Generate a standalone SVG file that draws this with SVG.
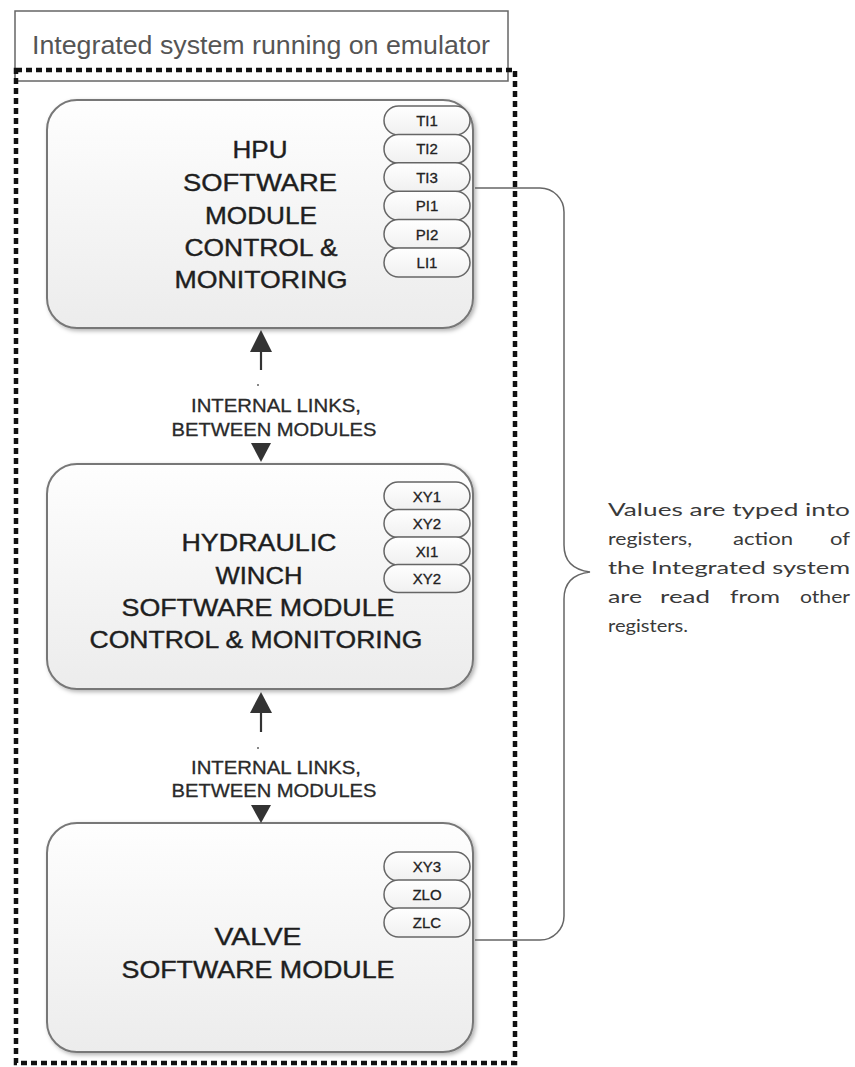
<svg xmlns="http://www.w3.org/2000/svg" width="855" height="1067" viewBox="0 0 855 1067">
<defs>
<linearGradient id="boxg" x1="0" y1="0" x2="0" y2="1">
<stop offset="0" stop-color="#fefefe"/>
<stop offset="1" stop-color="#ececec"/>
</linearGradient>
<linearGradient id="pillg" x1="0" y1="0" x2="0" y2="1">
<stop offset="0" stop-color="#ffffff"/>
<stop offset="1" stop-color="#f0f0f0"/>
</linearGradient>
<filter id="sh" x="-5%" y="-5%" width="115%" height="115%">
<feDropShadow dx="2" dy="2" stdDeviation="2" flood-color="#000" flood-opacity="0.3"/>
</filter>
</defs>
<style>
.box{fill:url(#boxg);stroke:#777;stroke-width:2;filter:url(#sh)}
.pill{fill:url(#pillg);stroke:#666;stroke-width:1.5}
.pt{font-family:"Liberation Sans",Arial,sans-serif;font-size:15px;fill:#222;stroke:#222;stroke-width:0.3;text-anchor:middle}
.nt{font-family:"Liberation Sans",Arial,sans-serif;font-size:24px;fill:#1e1e1e;stroke:#1e1e1e;stroke-width:0.4;text-anchor:middle}
.lt{font-family:"Liberation Sans",Arial,sans-serif;font-size:19px;fill:#2a2a2a;stroke:#2a2a2a;stroke-width:0.3;text-anchor:middle}
.para{font-family:Lato,"Open Sans",sans-serif;font-size:18px;fill:#3a3a3a}
.head{fill:#333}
</style>

<g id="title">
<rect x="15" y="11" width="493" height="70" fill="#fff" stroke="#666" stroke-width="1.5"/>
<text x="261" y="54" font-family="'Liberation Sans',Arial,sans-serif" font-size="26" fill="#555" text-anchor="middle" textLength="458" lengthAdjust="spacingAndGlyphs">Integrated system running on emulator</text>
</g>

<g id="boundary">
<rect x="16" y="70" width="499" height="993" fill="none" stroke="#111" stroke-width="4.5" stroke-dasharray="6 4"/>
</g>

<g id="hpu">
<rect class="box" x="47" y="100" width="426" height="228" rx="30"/>
<text class="nt" x="260" y="158" textLength="55" lengthAdjust="spacingAndGlyphs">HPU</text>
<text class="nt" x="260" y="191" textLength="154" lengthAdjust="spacingAndGlyphs">SOFTWARE</text>
<text class="nt" x="261" y="224" textLength="112" lengthAdjust="spacingAndGlyphs">MODULE</text>
<text class="nt" x="261" y="256" textLength="153" lengthAdjust="spacingAndGlyphs">CONTROL &amp;</text>
<text class="nt" x="261" y="288" textLength="173" lengthAdjust="spacingAndGlyphs">MONITORING</text>
<rect class="pill" x="384" y="106" width="86" height="29" rx="14.5"/>
<rect class="pill" x="384" y="134.4" width="86" height="29" rx="14.5"/>
<rect class="pill" x="384" y="162.8" width="86" height="29" rx="14.5"/>
<rect class="pill" x="384" y="191.2" width="86" height="29" rx="14.5"/>
<rect class="pill" x="384" y="219.6" width="86" height="29" rx="14.5"/>
<rect class="pill" x="384" y="248" width="86" height="29" rx="14.5"/>
<text class="pt" x="427" y="126">TI1</text>
<text class="pt" x="427" y="154.4">TI2</text>
<text class="pt" x="427" y="182.8">TI3</text>
<text class="pt" x="427" y="211.2">PI1</text>
<text class="pt" x="427" y="239.6">PI2</text>
<text class="pt" x="427" y="268">LI1</text>
</g>

<g id="hydraulic">
<rect class="box" x="47" y="464" width="426" height="225" rx="30"/>
<text class="nt" x="259" y="551" textLength="155" lengthAdjust="spacingAndGlyphs">HYDRAULIC</text>
<text class="nt" x="259" y="584" textLength="87" lengthAdjust="spacingAndGlyphs">WINCH</text>
<text class="nt" x="258" y="616" textLength="273" lengthAdjust="spacingAndGlyphs">SOFTWARE MODULE</text>
<text class="nt" x="256" y="648" textLength="333" lengthAdjust="spacingAndGlyphs">CONTROL &amp; MONITORING</text>
<rect class="pill" x="384" y="482" width="86" height="28" rx="14"/>
<rect class="pill" x="384" y="509.5" width="86" height="28" rx="14"/>
<rect class="pill" x="384" y="537" width="86" height="28" rx="14"/>
<rect class="pill" x="384" y="564.5" width="86" height="28" rx="14"/>
<text class="pt" x="427" y="501.5">XY1</text>
<text class="pt" x="427" y="529">XY2</text>
<text class="pt" x="427" y="556.5">XI1</text>
<text class="pt" x="427" y="584">XY2</text>
</g>

<g id="valve">
<rect class="box" x="47" y="823" width="426" height="229" rx="30"/>
<text class="nt" x="258" y="945" textLength="87" lengthAdjust="spacingAndGlyphs">VALVE</text>
<text class="nt" x="258" y="978" textLength="273" lengthAdjust="spacingAndGlyphs">SOFTWARE MODULE</text>
<rect class="pill" x="384" y="852" width="86" height="29" rx="14.5"/>
<rect class="pill" x="384" y="880" width="86" height="29" rx="14.5"/>
<rect class="pill" x="384" y="908" width="86" height="29" rx="14.5"/>
<text class="pt" x="427" y="872">XY3</text>
<text class="pt" x="427" y="900">ZLO</text>
<text class="pt" x="427" y="928">ZLC</text>
</g>

<g id="connectors">
<line x1="261" y1="350" x2="261" y2="370" stroke="#333" stroke-width="2.2"/>
<polygon class="head" points="250,352 272,352 261,330"/>
<rect x="257" y="384" width="2" height="2" fill="#888"/>
<polygon class="head" points="251,443 271,443 261,462"/>
<line x1="261" y1="711" x2="261" y2="732" stroke="#333" stroke-width="2.2"/>
<polygon class="head" points="250,713 272,713 261,692"/>
<rect x="257" y="747" width="2" height="2" fill="#888"/>
<polygon class="head" points="251,805 271,805 261,823"/>
<path d="M475,188 H540 A24,24 0 0 1 564,212 V545 C564,562 574,570 590,572 C574,574 564,582 564,599 V916 A24,24 0 0 1 540,940 H475" fill="none" stroke="#666" stroke-width="1.5"/>
</g>

<g id="link-labels">
<text class="lt" x="276" y="412" textLength="170" lengthAdjust="spacingAndGlyphs">INTERNAL LINKS,</text>
<text class="lt" x="274" y="436" textLength="205" lengthAdjust="spacingAndGlyphs">BETWEEN MODULES</text>
<text class="lt" x="276" y="774" textLength="170" lengthAdjust="spacingAndGlyphs">INTERNAL LINKS,</text>
<text class="lt" x="274" y="797" textLength="205" lengthAdjust="spacingAndGlyphs">BETWEEN MODULES</text>
</g>

<g id="note">
<text class="para" x="608" y="516" textLength="242" lengthAdjust="spacingAndGlyphs">Values are typed into</text>
<text class="para" y="545"><tspan x="608" textLength="84" lengthAdjust="spacingAndGlyphs">registers,</tspan><tspan x="733" textLength="60" lengthAdjust="spacingAndGlyphs">action</tspan><tspan x="830" textLength="20" lengthAdjust="spacingAndGlyphs">of</tspan></text>
<text class="para" x="608" y="574" textLength="242" lengthAdjust="spacingAndGlyphs">the Integrated system</text>
<text class="para" y="603"><tspan x="608" textLength="34" lengthAdjust="spacingAndGlyphs">are</tspan><tspan x="660" textLength="50" lengthAdjust="spacingAndGlyphs">read</tspan><tspan x="730" textLength="50" lengthAdjust="spacingAndGlyphs">from</tspan><tspan x="800" textLength="50" lengthAdjust="spacingAndGlyphs">other</tspan></text>
<text class="para" x="608" y="632" textLength="80" lengthAdjust="spacingAndGlyphs">registers.</text>
</g>
</svg>
